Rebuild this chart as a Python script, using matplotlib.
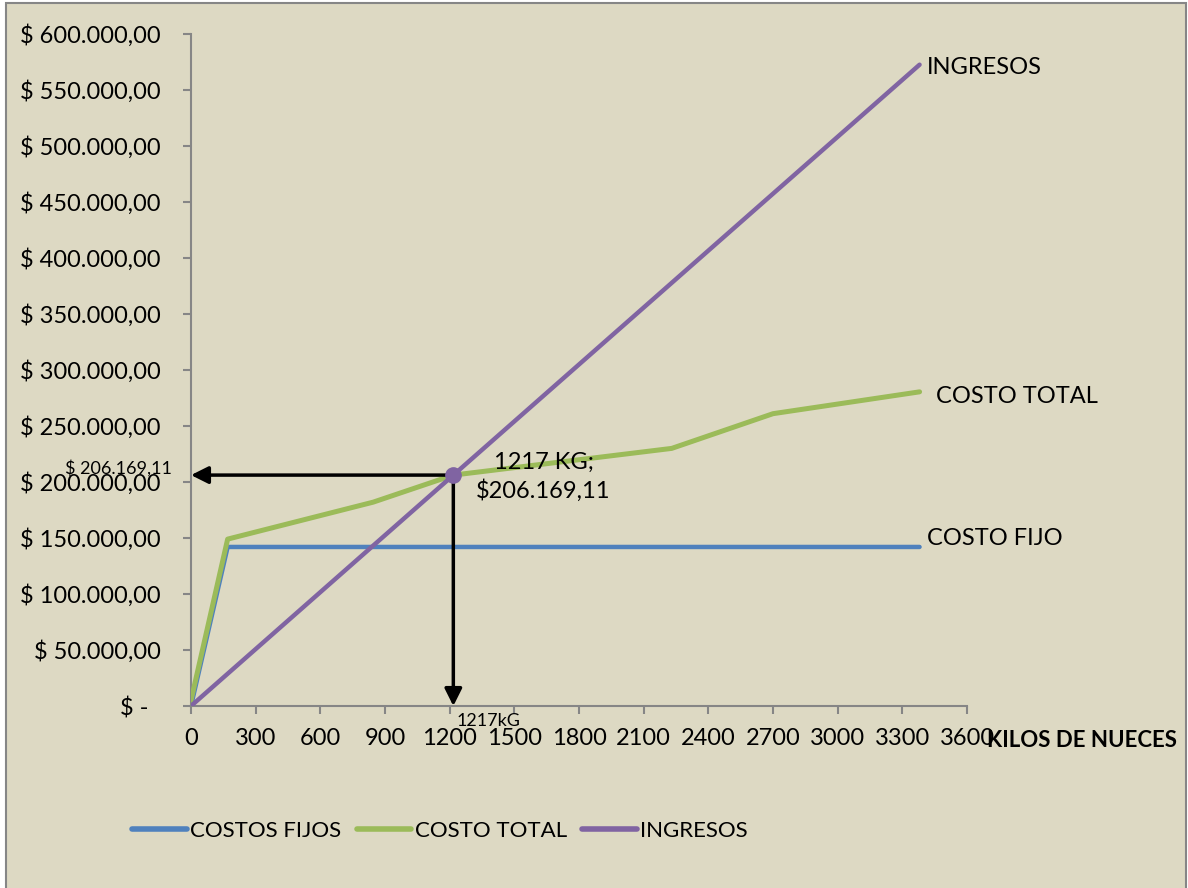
import matplotlib
matplotlib.use("Agg")
import matplotlib.pyplot as plt
from matplotlib.patches import Rectangle

plt.rcParams['font.family'] = ['Lato', 'DejaVu Sans']

# Series data (kilos of nuts vs. pesos)
kilos_fijos = [0, 170, 3380]
costos_fijos = [0, 142000, 142000]

kilos_total = [0, 170, 845, 1217, 2230, 2700, 3380]
costo_total = [5000, 149000, 182000, 206169.11, 230000, 261000, 280500]

kilos_ingresos = [0, 1217, 3380]
ingresos = [0, 206169.11, 572600]

be_kg = 1217
be_value = 206169.11

x_ticks = list(range(0, 3601, 300))
y_ticks = list(range(0, 600001, 50000))
y_labels = ["$ -  ", "$ 50.000,00", "$ 100.000,00", "$ 150.000,00", "$ 200.000,00",
            "$ 250.000,00", "$ 300.000,00", "$ 350.000,00", "$ 400.000,00",
            "$ 450.000,00", "$ 500.000,00", "$ 550.000,00", "$ 600.000,00"]

BG = "#DDD9C3"
GRAY = "#868686"
BLUE = "#4F81BD"
GREEN = "#9BBB59"
PURPLE = "#8064A2"
FS = 17
FS_LEG = 16
FS_SMALL = 13

fig = plt.figure(figsize=(11.88, 8.88), dpi=100)
fig.patch.set_facecolor("white")
fig.patches.append(Rectangle((6 / 1188, -0.01), (1186 - 6) / 1188, 1.01 - 3 / 888,
                             transform=fig.transFigure, facecolor=BG,
                             edgecolor=GRAY, linewidth=1.5, zorder=-10))

ax = fig.add_axes([191 / 1188, 1 - 706 / 888, (967 - 191) / 1188, (706 - 34) / 888])
ax.set_facecolor("none")
ax.set_xlim(0, 3600)
ax.set_ylim(0, 600000)
for s in ("top", "right"):
    ax.spines[s].set_visible(False)
for s in ("left", "bottom"):
    ax.spines[s].set_color(GRAY)
    ax.spines[s].set_linewidth(1.5)
ax.set_xticks(x_ticks)
ax.set_xticklabels([str(v) for v in x_ticks])
ax.set_yticks(y_ticks)
ax.set_yticklabels(y_labels)
ax.tick_params(axis="both", direction="out", length=6, width=1.5, color=GRAY,
               labelsize=FS, labelcolor="black")
ax.tick_params(axis="y", pad=16)
ax.tick_params(axis="x", pad=10)

ax.plot(kilos_fijos, costos_fijos, color=BLUE, lw=3.2, solid_capstyle="round",
        label="COSTOS FIJOS", zorder=3)
ax.plot(kilos_total, costo_total, color=GREEN, lw=3.6, solid_capstyle="round",
        label="COSTO TOTAL", zorder=4)
ax.plot(kilos_ingresos, ingresos, color=PURPLE, lw=3.2, solid_capstyle="round",
        label="INGRESOS", zorder=5)

# Break-even arrows and point
arrow = dict(arrowstyle="-|>", lw=2.5, color="black", mutation_scale=26,
             shrinkA=0, shrinkB=0)
ax.annotate("", xy=(0, be_value), xytext=(be_kg, be_value), arrowprops=arrow,
            zorder=6, annotation_clip=False)
ax.annotate("", xy=(be_kg, 0), xytext=(be_kg, be_value), arrowprops=arrow,
            zorder=6, annotation_clip=False)
ax.plot([be_kg], [be_value], "o", color=PURPLE, ms=11, zorder=7)

ax.annotate("1217 KG;\n$206.169,11", xy=(be_kg, be_value), xytext=(65, -1),
            textcoords="offset points", ha="center", va="center", fontsize=FS,
            linespacing=1.35, zorder=8)
ax.annotate("$ 206.169,11", xy=(0, be_value), xytext=(-14, 5),
            textcoords="offset points", ha="right", va="center", fontsize=FS_SMALL,
            annotation_clip=False)
ax.annotate("1217kG", xy=(be_kg, 0), xytext=(2, -11),
            textcoords="offset points", ha="left", va="center", fontsize=FS_SMALL,
            annotation_clip=False)

# End-of-line labels
ax.annotate("INGRESOS", xy=(kilos_ingresos[-1], ingresos[-1]), xytext=(5, -2),
            textcoords="offset points", ha="left", va="center", fontsize=FS,
            annotation_clip=False)
ax.annotate("COSTO TOTAL", xy=(kilos_total[-1], costo_total[-1]), xytext=(12, -3),
            textcoords="offset points", ha="left", va="center", fontsize=FS,
            annotation_clip=False)
ax.annotate("COSTO FIJO", xy=(kilos_fijos[-1], costos_fijos[-1]), xytext=(5, 6),
            textcoords="offset points", ha="left", va="center", fontsize=FS,
            annotation_clip=False)

fig.text(987 / 1188, 1 - 740 / 888, "KILOS DE NUECES", ha="left", va="center",
         fontsize=16, fontweight="bold")

leg = fig.legend(loc="center", bbox_to_anchor=(440 / 1188, 1 - 831 / 888), ncol=3,
                 frameon=False, fontsize=FS_LEG, handlelength=2.45, handletextpad=0.15,
                 columnspacing=0.7)
for line in leg.get_lines():
    line.set_linewidth(4)
    line.set_solid_capstyle("round")

fig.savefig("out.png", dpi=100, facecolor=fig.get_facecolor())
